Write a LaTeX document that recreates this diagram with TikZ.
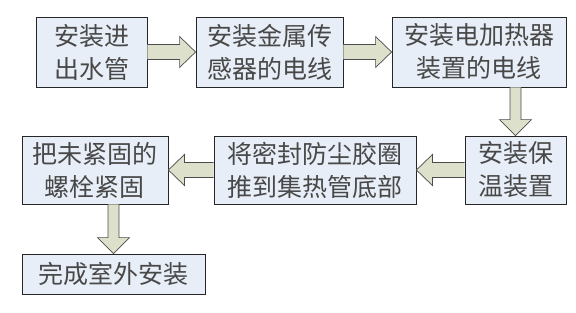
\documentclass[tikz,border=0pt]{standalone}
\usepackage{fontspec}
\setmainfont{Noto Sans CJK SC}
\usetikzlibrary{calc}
\definecolor{boxfill}{HTML}{E8EEF7}
\definecolor{arrowfill}{HTML}{DDE0CA}
\definecolor{txt}{HTML}{484848}
\begin{document}
\begin{tikzpicture}[x=1pt,y=-1pt,
  box/.style={draw=black!85,line width=0.8pt,fill=boxfill,inner sep=0pt,
    align=center,text=txt,font=\fontsize{25}{33}\selectfont},
  blockarrow/.style={draw=black!70,line width=0.7pt,fill=arrowfill,line join=miter}]
\useasboundingbox (0,0) rectangle (576,313);
\node[box,minimum width=111pt,minimum height=70pt] (b1) at (91.5,52) {安装进\\出水管};
\node[box,minimum width=147pt,minimum height=70pt] (b2) at (269.5,52) {安装金属传\\感器的电线};
\node[box,minimum width=174pt,minimum height=70pt] (b3) at (479,52) {安装电加热器\\装置的电线};
\node[box,minimum width=101pt,minimum height=68pt] (b4) at (515.5,170) {安装保\\温装置};
\node[box,minimum width=202pt,minimum height=68pt] (b5) at (315,170) {将密封防尘胶圈\\推到集热管底部};
\node[box,minimum width=146pt,minimum height=68pt] (b6) at (95,170) {把未紧固的\\螺栓紧固};
\node[box,minimum width=183pt,minimum height=40pt] (b7) at (113.5,274) {完成室外安装};
% right arrows
\foreach \a/\b in {b1/b2,b2/b3}{
  \draw[blockarrow] let \p1=(\a.east), \p2=(\b.west) in
    (\x1,\y1+7.5pt) -- (\x2-16pt,\y1+7.5pt) -- (\x2-16pt,\y1+15.5pt) -- (\x2,\y1)
    -- (\x2-16pt,\y1-15.5pt) -- (\x2-16pt,\y1-7.5pt) -- (\x1,\y1-7.5pt);
}
% left arrows
\foreach \a/\b in {b4/b5,b5/b6}{
  \draw[blockarrow] let \p1=(\a.west), \p2=(\b.east) in
    (\x1,\y1+7.5pt) -- (\x2+16pt,\y1+7.5pt) -- (\x2+16pt,\y1+15.5pt) -- (\x2,\y1)
    -- (\x2+16pt,\y1-15.5pt) -- (\x2+16pt,\y1-7.5pt) -- (\x1,\y1-7.5pt);
}
% down arrows
\foreach \a/\b in {b3/b4,b6/b7}{
  \draw[blockarrow] let \p1=(\a.south), \p2=(\b.north) in
    (\x2-5.5pt,\y1) -- (\x2-5.5pt,\y2+16pt) -- (\x2-16pt,\y2+16pt) -- (\x2,\y2)
    -- (\x2+16pt,\y2+16pt) -- (\x2+5.5pt,\y2+16pt) -- (\x2+5.5pt,\y1);
}
\end{tikzpicture}
\end{document}
